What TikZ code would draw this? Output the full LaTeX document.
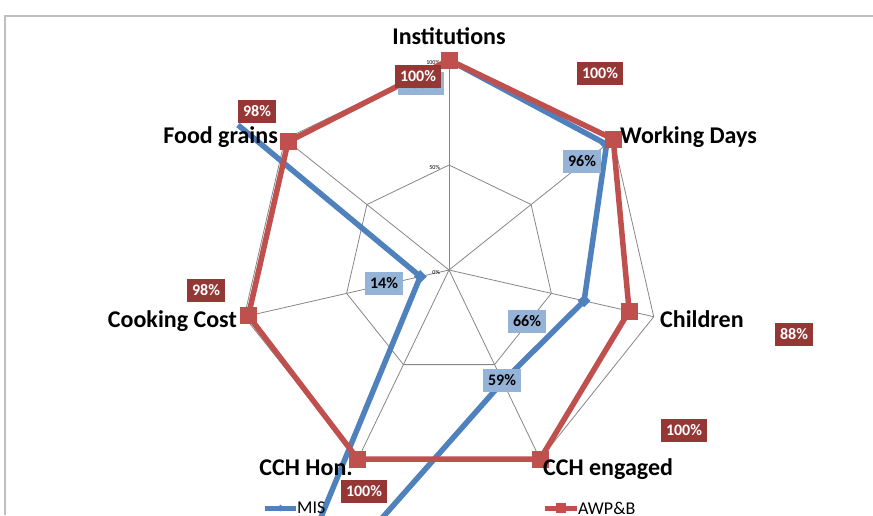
\documentclass[tikz,border=0pt]{standalone}
\usepackage{fontspec}
\setmainfont{Carlito}
\usepackage{tikz}
\usetikzlibrary{shapes.geometric}
\definecolor{misblue}{HTML}{4F81BD}
\definecolor{awpred}{HTML}{C0504D}
\definecolor{mislabel}{HTML}{95B3D7}
\definecolor{awplabel}{HTML}{953735}
\definecolor{webgray}{HTML}{868686}
\definecolor{framegray}{HTML}{BFBFBF}

\begin{document}
\begin{tikzpicture}[x=1pt,y=1pt,
  webline/.style={draw=webgray, line width=0.8pt},
  mis/.style={draw=misblue, line width=5.5pt, line join=round},
  awp/.style={draw=awpred, line width=5.5pt, line join=round},
  misdot/.style={diamond, fill=misblue, minimum size=13pt, inner sep=0pt},
  awpdot/.style={rectangle, fill=awpred, minimum size=17pt, inner sep=0pt},
  mislab/.style={fill=mislabel, text=black, font=\fontsize{16}{16}\selectfont\bfseries, inner xsep=5pt, inner ysep=0pt, minimum height=23pt},
  awplab/.style={mislab, fill=awplabel, text=white},
  axlab/.style={font=\fontsize{24}{24}\selectfont\bfseries, inner sep=0pt},
  ticklab/.style={font=\fontsize{6}{6}\selectfont, inner sep=0pt},
  leglab/.style={font=\fontsize{18}{18}\selectfont, inner sep=1pt}]

\useasboundingbox (0,0) rectangle (873,-515);
\clip (0,0) rectangle (873,-515);
\draw[framegray, line width=1.5pt] (5,-515) -- (5,-16) -- (873,-16);

\begin{scope}[shift={(449,-270)}]
\coordinate (o) at (0,0);
\foreach \k/\v/\w in {0/100/100, 1/100/96, 2/88/66, 3/100/59, 4/100/200, 5/98/14, 6/98/0} {
  \coordinate (a\k) at ({90-\k*360/7}:210);
  \coordinate (h\k) at ({90-\k*360/7}:105);
  \coordinate (r\k) at ({90-\k*360/7}:{2.1*\v});
  \coordinate (b\k) at ({90-\k*360/7}:{2.1*\w});
  \draw[webline] (o) -- (a\k);
}
\coordinate (bcut) at (-211,145);
\draw[webline] (a0) -- (a1) -- (a2) -- (a3) -- (a4) -- (a5) -- (a6) -- cycle;
\draw[webline] (h0) -- (h1) -- (h2) -- (h3) -- (h4) -- (h5) -- (h6) -- cycle;
\foreach \p in {0,50,100}
  \node[ticklab, anchor=east] at (-9,{\p*2.1-2}) {\p\%};

\draw[mis] (bcut) -- (b5) -- (b4) -- (b3) -- (b2) -- (b1) -- (b0);
\foreach \k in {0,1,2,3,5}
  \node[misdot] (bm\k) at (b\k) {};
\draw[awp] (r0) -- (r1) -- (r2) -- (r3) -- (r4) -- (r5) -- (r6) -- cycle;
\foreach \k in {0,...,6}
  \node[awpdot] (rm\k) at (r\k) {};
\end{scope}

\node[mislab] (lb0) at (421,-83) {100\%};
\node[mislab] (lb1) at (582,-161) {96\%};
\node[mislab] (lb2) at (527,-321) {66\%};
\node[mislab] (lb3) at (502,-380) {59\%};
\node[mislab] (lb5) at (384,-283) {14\%};

\node[awplab] (lr0) at (418,-76) {100\%};
\node[awplab] (lr1) at (600,-73) {100\%};
\node[awplab] (lr2) at (794,-334) {88\%};
\node[awplab] (lr3) at (684,-430) {100\%};
\node[awplab] (lr4) at (364,-491) {100\%};
\node[awplab] (lr5) at (206,-290) {98\%};
\node[awplab] (lr6) at (257,-111) {98\%};

\node[axlab, anchor=base] (inst) at (449,-44) {Institutions};
\node[axlab, anchor=base west] (wdays) at (620,-143) {Working Days};
\node[axlab, anchor=base west] (child) at (660,-327) {Children};
\node[axlab, anchor=base west] (cche) at (543,-475) {CCH engaged};
\node[axlab, anchor=base east] (cchh) at (353,-475) {CCH Hon.};
\node[axlab, anchor=base east] (cost) at (237,-327) {Cooking Cost};
\node[axlab, anchor=base east] (food) at (278,-143) {Food grains};

\node[leglab, anchor=west] (lgmis) at (296,-508) {MIS};
\coordinate (lgm) at (265,-508);
\draw[mis, line width=5pt] (lgm) -- (lgm -| lgmis.west) node[midway, misdot, minimum size=9pt] {};
\node[leglab, anchor=west] (lgawp) at (577,-508) {AWP\&B};
\coordinate (lga) at (545,-508);
\draw[awp, line width=5pt] (lga) -- (lga -| lgawp.west) node[midway, awpdot, minimum size=10pt] {};

\end{tikzpicture}
\end{document}
